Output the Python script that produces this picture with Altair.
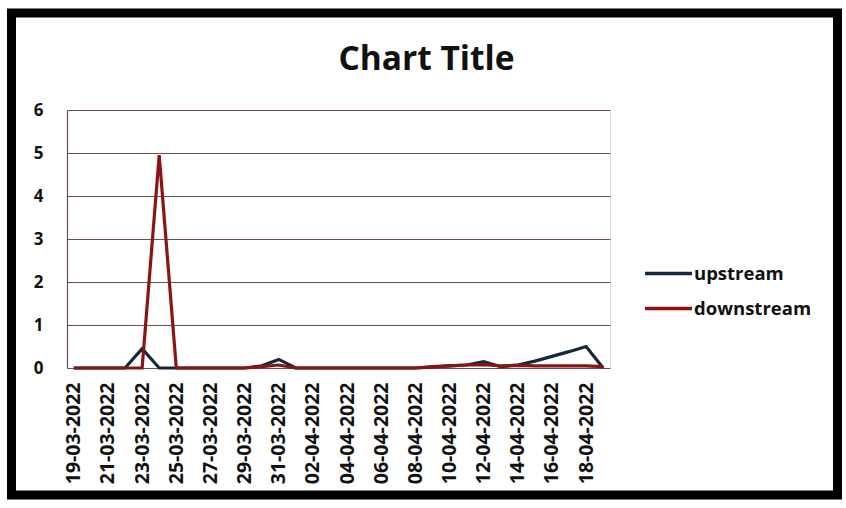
import altair as alt
import pandas as pd

# Daily readings, 19 March – 19 April 2022
dates = [
    "19-03-2022", "20-03-2022", "21-03-2022", "22-03-2022", "23-03-2022",
    "24-03-2022", "25-03-2022", "26-03-2022", "27-03-2022", "28-03-2022",
    "29-03-2022", "30-03-2022", "31-03-2022", "01-04-2022", "02-04-2022",
    "03-04-2022", "04-04-2022", "05-04-2022", "06-04-2022", "07-04-2022",
    "08-04-2022", "09-04-2022", "10-04-2022", "11-04-2022", "12-04-2022",
    "13-04-2022", "14-04-2022", "15-04-2022", "16-04-2022", "17-04-2022",
    "18-04-2022", "19-04-2022",
]
upstream = [
    0, 0, 0, 0, 0.45, 0, 0, 0, 0, 0, 0, 0.05, 0.2, 0, 0, 0,
    0, 0, 0, 0, 0, 0.03, 0.05, 0.07, 0.15, 0.03, 0.07, 0.16, 0.27, 0.38,
    0.5, 0,
]
downstream = [
    0, 0, 0, 0, 0, 4.95, 0, 0, 0, 0, 0, 0.03, 0.07, 0, 0, 0,
    0, 0, 0, 0, 0, 0.02, 0.05, 0.07, 0.08, 0.05, 0.06, 0.05, 0.05, 0.05,
    0.05, 0.03,
]
series_names = ["upstream", "downstream"]
series_colors = ["#15283f", "#8c1313"]
label_dates = dates[::2]

df = pd.concat([
    pd.DataFrame({"date": dates, "series": "upstream", "value": upstream}),
    pd.DataFrame({"date": dates, "series": "downstream", "value": downstream}),
])
df["order"] = df["series"].map({"upstream": 0, "downstream": 1})

W, H = 543, 258
FONT = "Open Sans"

lines = alt.Chart(df).mark_line(strokeWidth=3.2, strokeJoin="miter").encode(
    x=alt.X(
        "date:O",
        sort=dates,
        scale=alt.Scale(type="point", padding=0.4),
        axis=alt.Axis(
            title=None, values=label_dates, labelAngle=270, labelAlign="right",
            labelBaseline="middle", labelFont=FONT, labelFontWeight="bold",
            labelFontSize=19.5, labelColor="#111111", labelPadding=14,
            ticks=False, domain=False, grid=False,
        ),
    ),
    y=alt.Y(
        "value:Q",
        scale=alt.Scale(domain=[0, 6], nice=False),
        axis=alt.Axis(
            title=None, values=[0, 1, 2, 3, 4, 5, 6], format="d",
            labelFont=FONT, labelFontWeight="bold", labelFontSize=17,
            labelColor="#111111", labelPadding=24, ticks=False,
            domain=True, domainColor="#6e4d4d", domainWidth=1.2,
            grid=True, gridColor="#6e4d4d", gridWidth=1.2,
        ),
    ),
    color=alt.Color(
        "series:N",
        scale=alt.Scale(domain=series_names, range=series_colors),
        legend=alt.Legend(
            title=None, orient="none", legendX=576, legendY=138,
            symbolType="stroke", symbolSize=2209, symbolStrokeWidth=3.5,
            labelFont=FONT, labelFontWeight="bold", labelFontSize=18.5,
            labelColor="#111111", labelOffset=0, rowPadding=-5, padding=0,
        ),
    ),
    order=alt.Order("order:Q"),
)

# Heavy outer frame around the whole chart
frame = alt.Chart(alt.Data(values=[{}])).mark_rect(
    fill=None, stroke="#000000", strokeWidth=9
).encode(
    x=alt.value(-55.5), x2=alt.value(770.5),
    y=alt.value(-97), y2=alt.value(385),
)

chart = alt.layer(lines, frame).properties(
    width=W,
    height=H,
    padding={"left": 67, "top": 110, "right": 236, "bottom": 140},
    autosize=alt.AutoSizeParams(type="none"),
    title=alt.Title(
        "Chart Title", font=FONT, fontWeight="bold", fontSize=33.5,
        color="#111111", anchor="middle", frame="group", dx=88, offset=0,
        dy=69,
    ),
).configure_view(stroke=None).configure(background="white")

chart.save("out.html", embed_options={"renderer": "svg", "actions": False})
